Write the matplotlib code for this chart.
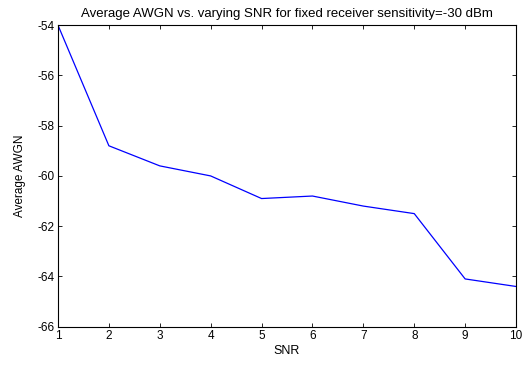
import matplotlib
matplotlib.use("Agg")
import matplotlib.pyplot as plt

plt.rcParams["font.family"] = ["Liberation Sans", "DejaVu Sans"]
plt.rcParams["axes.unicode_minus"] = False

snr = [1, 2, 3, 4, 5, 6, 7, 8, 9, 10]
avg_awgn = [-54.0, -58.8, -59.6, -60.0, -60.9, -60.8, -61.2, -61.5, -64.1, -64.4]

fig = plt.figure(figsize=(5.32, 3.65), dpi=100)
ax = fig.add_axes([0.109, 0.105, 0.861, 0.826])
ax.plot(snr, avg_awgn, color="#0000ff", linewidth=0.9)

ax.set_xlim(1, 10)
ax.set_ylim(-66, -54)
ax.set_xticks(range(1, 11))
ax.set_yticks(range(-66, -53, 2))
ax.tick_params(direction="in", top=True, right=True, labelsize=8.5,
               length=3, width=0.6, pad=2.5)
for s in ax.spines.values():
    s.set_linewidth(0.8)

ax.set_xlabel("SNR", fontsize=9, labelpad=2)
ax.set_ylabel("Average AWGN", fontsize=8.5, labelpad=8)
ax.set_title("Average AWGN vs. varying SNR for fixed receiver sensitivity=-30 dBm",
             fontsize=9.5, pad=6)

fig.savefig("out.png", dpi=100)
